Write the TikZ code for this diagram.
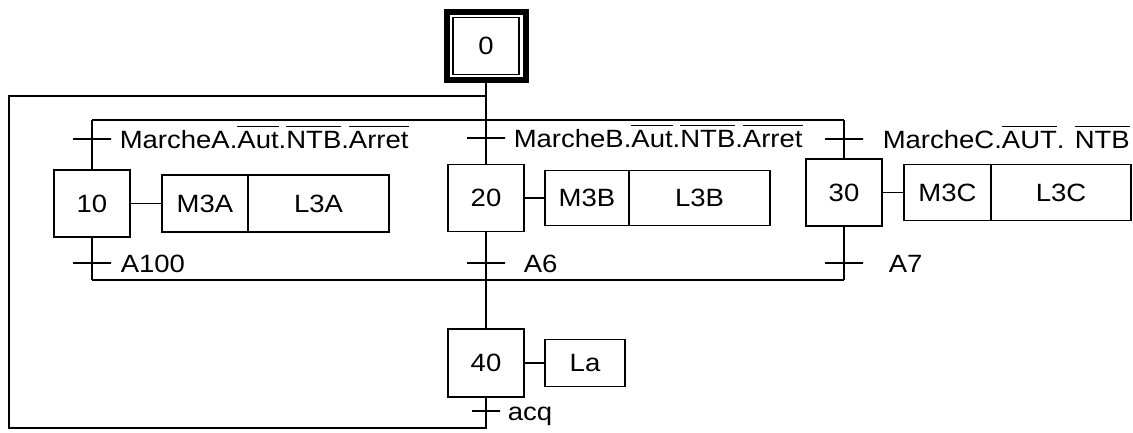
\documentclass[tikz,border=0pt]{standalone}
\usepackage{fontspec}
\setmainfont{Liberation Sans}[FakeStretch=1.1]
\usetikzlibrary{positioning}
\newcommand{\ovl}[1]{\vbox{\hrule height 1pt\kern 4pt\hbox{#1}}}

\begin{document}
\begin{tikzpicture}[x=1pt, y=-1pt, line width=1.5pt,
  every node/.style={font=\fontsize{25}{30}\selectfont},
  etape/.style={draw, minimum width=76pt, minimum height=67pt, inner sep=0pt},
  action/.style={draw, minimum height=57pt, inner sep=0pt, outer sep=0pt},
  trans/.style={draw, minimum width=38pt, minimum height=0pt, inner sep=0pt, outer sep=0pt},
  cond/.style={inner sep=0pt, text height=18pt, text depth=0pt}]
\useasboundingbox (0,0) rectangle (1133,432);
\node[etape, minimum width=66pt, minimum height=57pt] (s0) at (486,46) {0};
\node[draw, line width=6pt, minimum width=79pt, minimum height=68pt] (s0f) at (486,46) {};
\node[etape] (s10) at (92,203.5) {10};
\node[etape] (s20) at (486,198) {20};
\node[etape] (s30) at (844,192.5) {30};
\node[etape, minimum height=68pt] (s40) at (486,363) {40};
\node[action, minimum width=86pt] (a10m) at (205,203.5) {M3A};
\node[action, minimum width=141pt, right=0pt of a10m] (a10l) {L3A};
\node[action, minimum width=84pt, minimum height=55pt] (a20m) at (587,198) {M3B};
\node[action, minimum width=141pt, minimum height=55pt, right=0pt of a20m] (a20l) {L3B};
\node[action, minimum width=87pt, minimum height=56pt] (a30m) at (947.5,192.5) {M3C};
\node[action, minimum width=140pt, minimum height=56pt, right=0pt of a30m] (a30l) {L3C};
\node[action, minimum width=80pt, minimum height=47pt] (a40) at (585,363) {La};
\coordinate (dvA) at (92,120);
\coordinate (dvC) at (844,120);
\coordinate (cvA) at (92,280);
\coordinate (cvC) at (844,280);
\coordinate (bcA) at (9,96);
\coordinate (bcB) at (9,428);
\draw (dvA) -- (dvC);
\draw (cvA) -- (cvC);
\draw (s0f) -- (s20);
\draw (dvA) -- (s10);
\draw (dvC) -- (s30);
\draw (s10) -- (cvA);
\draw (s30) -- (cvC);
\draw (s20) -- (s40);
\draw (s40) -- (s40 |- bcB) -- (bcB) -- (bcA) -- (bcA -| s0f);
\draw (s10) -- (a10m);
\draw (s20) -- (a20m);
\draw (s30) -- (a30m);
\draw (s40) -- (a40);
\node[trans] (tA1) at (92,139) {};
\node[trans] (tB1) at (486,138) {};
\node[trans] (tC1) at (844,139) {};
\node[trans] (tA2) at (92,263) {};
\node[trans] (tB2) at (486,263) {};
\node[trans] (tC2) at (844,263) {};
\node[trans, minimum width=28pt] (tD) at (486,411) {};
\node[cond, right=8pt of tA1] (cA1) {MarcheA.\ovl{Aut}.\ovl{NTB}.\ovl{Arret}};
\node[cond, right=8pt of tB1] (cB1) {MarcheB.\ovl{Aut}.\ovl{NTB}.\ovl{Arret}};
\node[cond, right=19pt of tC1] (cC1) {MarcheC.\ovl{AUT}. \ovl{NTB}};
\node[cond, right=9pt of tA2] (cA2) {A100};
\node[cond, right=18pt of tB2] (cB2) {A6};
\node[cond, right=25pt of tC2] (cC2) {A7};
\node[cond, right=7pt of tD] (cD) {acq};
\end{tikzpicture}
\end{document}
